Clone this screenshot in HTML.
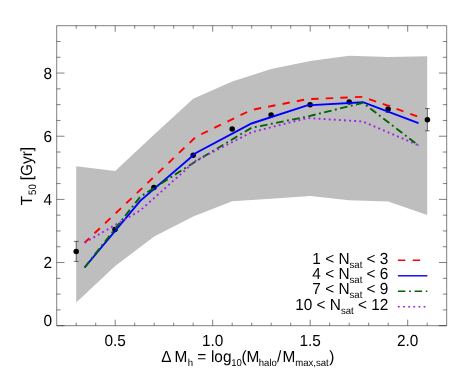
<!DOCTYPE html>
<html><head><meta charset="utf-8"><title>T50 vs Delta Mh</title>
<style>html,body{margin:0;padding:0;background:#fff;}svg{display:block;will-change:transform;}text{font-family:"Liberation Sans",sans-serif;fill:#000;text-rendering:geometricPrecision;}</style></head><body>
<svg width="463" height="371" viewBox="0 0 463 371">
<rect x="0" y="0" width="463" height="371" fill="#fff"/>
<polygon fill="#bebebe" points="76.2,166.3 115.2,170.9 154.2,134.5 193.2,98.7 232.2,81.4 271.2,68.9 310.2,61.0 349.2,55.7 388.2,56.9 427.2,56.3 427.2,214.9 388.2,201.4 349.2,200.2 310.2,195.9 271.2,198.7 232.2,201.2 193.2,216.6 154.2,236.6 115.2,266.1 76.2,302.5"/>
<path d="M76.2 241.4V261.4M73.8 241.4h4.8M73.8 261.4h4.8" stroke="#000" stroke-width="0.55" fill="none"/>
<circle cx="76.2" cy="251.4" r="2.75" fill="#000"/>
<circle cx="115.0" cy="229.5" r="2.75" fill="#000"/>
<circle cx="153.9" cy="187.4" r="2.75" fill="#000"/>
<circle cx="193.2" cy="155.2" r="2.75" fill="#000"/>
<circle cx="232.2" cy="129.1" r="2.75" fill="#000"/>
<circle cx="271.1" cy="115.0" r="2.75" fill="#000"/>
<circle cx="310.1" cy="104.7" r="2.75" fill="#000"/>
<circle cx="349.2" cy="102.1" r="2.75" fill="#000"/>
<path d="M388.1 105.3V112.5M385.7 105.3h4.8M385.7 112.5h4.8" stroke="#000" stroke-width="0.55" fill="none"/>
<circle cx="388.1" cy="108.9" r="2.75" fill="#000"/>
<path d="M427.4 108.6V130.8M425.0 108.6h4.8M425.0 130.8h4.8" stroke="#000" stroke-width="0.55" fill="none"/>
<circle cx="427.4" cy="119.7" r="2.75" fill="#000"/>
<polyline fill="none" stroke="#ff0000" stroke-width="1.90" stroke-linejoin="miter" stroke-dasharray="7.4 7.18" stroke-dashoffset="0.90" points="84.6,242.7 140.2,190.0 195.9,136.8 251.5,109.9 307.2,99.2 362.9,96.8 418.5,116.8"/>
<polyline fill="none" stroke="#0000ff" stroke-width="1.90" stroke-linejoin="miter" points="84.6,267.5 140.2,200.9 195.9,153.0 251.5,123.5 307.2,105.4 362.9,102.2 418.5,123.2"/>
<polyline fill="none" stroke="#006400" stroke-width="1.90" stroke-linejoin="miter" stroke-dasharray="7.6 3.45 1.9 3.45" stroke-dashoffset="0.00" points="84.6,267.5 140.2,196.8 195.9,161.3 251.5,127.8 307.2,116.6 362.9,102.8 418.5,145.5"/>
<polyline fill="none" stroke="#a020f0" stroke-width="1.90" stroke-linejoin="miter" stroke-dasharray="1.9 3.2" stroke-dashoffset="0.00" points="84.6,242.7 140.2,210.5 195.9,160.6 251.5,132.3 307.2,118.0 362.9,121.5 418.5,145.4"/>
<path d="M56.7 25.7H446.7V325.7H56.7ZM76.20 25.7v3.0M76.20 325.7v-3.0M95.70 25.7v3.0M95.70 325.7v-3.0M115.20 25.7v6.0M115.20 325.7v-6.0M134.70 25.7v3.0M134.70 325.7v-3.0M154.20 25.7v3.0M154.20 325.7v-3.0M173.70 25.7v3.0M173.70 325.7v-3.0M193.20 25.7v3.0M193.20 325.7v-3.0M212.70 25.7v6.0M212.70 325.7v-6.0M232.20 25.7v3.0M232.20 325.7v-3.0M251.70 25.7v3.0M251.70 325.7v-3.0M271.20 25.7v3.0M271.20 325.7v-3.0M290.70 25.7v3.0M290.70 325.7v-3.0M310.20 25.7v6.0M310.20 325.7v-6.0M329.70 25.7v3.0M329.70 325.7v-3.0M349.20 25.7v3.0M349.20 325.7v-3.0M368.70 25.7v3.0M368.70 325.7v-3.0M388.20 25.7v3.0M388.20 325.7v-3.0M407.70 25.7v6.0M407.70 325.7v-6.0M427.20 25.7v3.0M427.20 325.7v-3.0M56.7 325.70h7.8M446.7 325.70h-7.8M56.7 309.91h3.9M446.7 309.91h-3.9M56.7 294.12h3.9M446.7 294.12h-3.9M56.7 278.33h3.9M446.7 278.33h-3.9M56.7 262.54h7.8M446.7 262.54h-7.8M56.7 246.75h3.9M446.7 246.75h-3.9M56.7 230.96h3.9M446.7 230.96h-3.9M56.7 215.17h3.9M446.7 215.17h-3.9M56.7 199.38h7.8M446.7 199.38h-7.8M56.7 183.59h3.9M446.7 183.59h-3.9M56.7 167.81h3.9M446.7 167.81h-3.9M56.7 152.02h3.9M446.7 152.02h-3.9M56.7 136.23h7.8M446.7 136.23h-7.8M56.7 120.44h3.9M446.7 120.44h-3.9M56.7 104.65h3.9M446.7 104.65h-3.9M56.7 88.86h3.9M446.7 88.86h-3.9M56.7 73.07h7.8M446.7 73.07h-7.8M56.7 57.28h3.9M446.7 57.28h-3.9M56.7 41.49h3.9M446.7 41.49h-3.9" stroke="#000" stroke-width="0.5" fill="none"/>
<text transform="translate(52.10 268.14) scale(0.9565 1)" font-size="16.1" text-anchor="end">2</text>
<text transform="translate(52.10 204.98) scale(0.9565 1)" font-size="16.1" text-anchor="end">4</text>
<text transform="translate(52.10 141.83) scale(0.9565 1)" font-size="16.1" text-anchor="end">6</text>
<text transform="translate(52.10 78.67) scale(0.9565 1)" font-size="16.1" text-anchor="end">8</text>
<text transform="translate(52.10 325.80) scale(0.9565 1)" font-size="16.1" text-anchor="end">0</text>
<text transform="translate(115.20 345.60) scale(0.9565 1)" font-size="16.1" text-anchor="middle">0.5</text>
<text transform="translate(212.70 345.60) scale(0.9565 1)" font-size="16.1" text-anchor="middle">1.0</text>
<text transform="translate(310.20 345.60) scale(0.9565 1)" font-size="16.1" text-anchor="middle">1.5</text>
<text transform="translate(407.70 345.60) scale(0.9565 1)" font-size="16.1" text-anchor="middle">2.0</text>
<text transform="translate(161.20 361.60) scale(0.9565 1)" font-size="16.1" text-anchor="start">&#916;</text>
<text transform="translate(174.60 361.60) scale(0.9565 1)" font-size="16.1" text-anchor="start">M</text>
<text transform="translate(187.80 365.70) scale(0.9565 1)" font-size="10.0" text-anchor="start">h</text>
<text transform="translate(197.30 361.60) scale(0.9565 1)" font-size="16.1" text-anchor="start">=</text>
<text transform="translate(210.90 361.60) scale(0.9565 1)" font-size="16.1" text-anchor="start">log</text>
<text transform="translate(231.20 365.70) scale(0.9565 1)" font-size="10.0" text-anchor="start">10</text>
<text transform="translate(241.40 361.60) scale(0.9565 1)" font-size="16.1" text-anchor="start">(M</text>
<text transform="translate(258.80 365.70) scale(0.9565 1)" font-size="10.0" text-anchor="start">halo</text>
<text transform="translate(276.90 361.60) scale(0.9565 1)" font-size="16.1" text-anchor="start">/</text>
<text transform="translate(282.60 361.60) scale(0.9565 1)" font-size="16.1" text-anchor="start">M</text>
<text transform="translate(295.20 365.70) scale(0.9565 1)" font-size="10.0" text-anchor="start">max,sat</text>
<text transform="translate(329.20 361.60) scale(0.9565 1)" font-size="16.1" text-anchor="start">)</text>
<g transform="translate(32.4,206.2) rotate(-90)">
<text transform="translate(0.90 0.00) scale(0.9565 1)" font-size="16.1" text-anchor="start">T</text>
<text transform="translate(11.30 3.90) scale(0.8900 1)" font-size="10.8">50</text>
<text transform="translate(25.90 0.00) scale(0.9565 1)" font-size="16.1" text-anchor="start">[Gyr]</text>
</g>
<text transform="translate(388.40 264.10) scale(0.9565 1)" font-size="16.1" text-anchor="end">1 &lt; N<tspan font-size="10.0" dy="3.7">sat</tspan><tspan dy="-3.7"> &lt; 3</tspan></text>
<path d="M397.9 260.3H427.4" stroke="#ff0000" stroke-width="1.4" fill="none" stroke-dasharray="7.4 7.4"/>
<text transform="translate(388.40 279.30) scale(0.9565 1)" font-size="16.1" text-anchor="end">4 &lt; N<tspan font-size="10.0" dy="3.7">sat</tspan><tspan dy="-3.7"> &lt; 6</tspan></text>
<path d="M397.9 275.8H427.4" stroke="#0000ff" stroke-width="1.4" fill="none"/>
<text transform="translate(388.40 294.20) scale(0.9565 1)" font-size="16.1" text-anchor="end">7 &lt; N<tspan font-size="10.0" dy="3.7">sat</tspan><tspan dy="-3.7"> &lt; 9</tspan></text>
<path d="M397.9 291.2H427.4" stroke="#006400" stroke-width="1.4" fill="none" stroke-dasharray="7.5 3.7 1.8 3.7"/>
<text transform="translate(388.40 310.00) scale(0.9565 1)" font-size="16.1" text-anchor="end">10 &lt; N<tspan font-size="10.0" dy="3.7">sat</tspan><tspan dy="-3.7"> &lt; 12</tspan></text>
<path d="M397.9 306.7H427.4" stroke="#a020f0" stroke-width="1.4" fill="none" stroke-dasharray="1.8 3.35"/>
</svg></body></html>
